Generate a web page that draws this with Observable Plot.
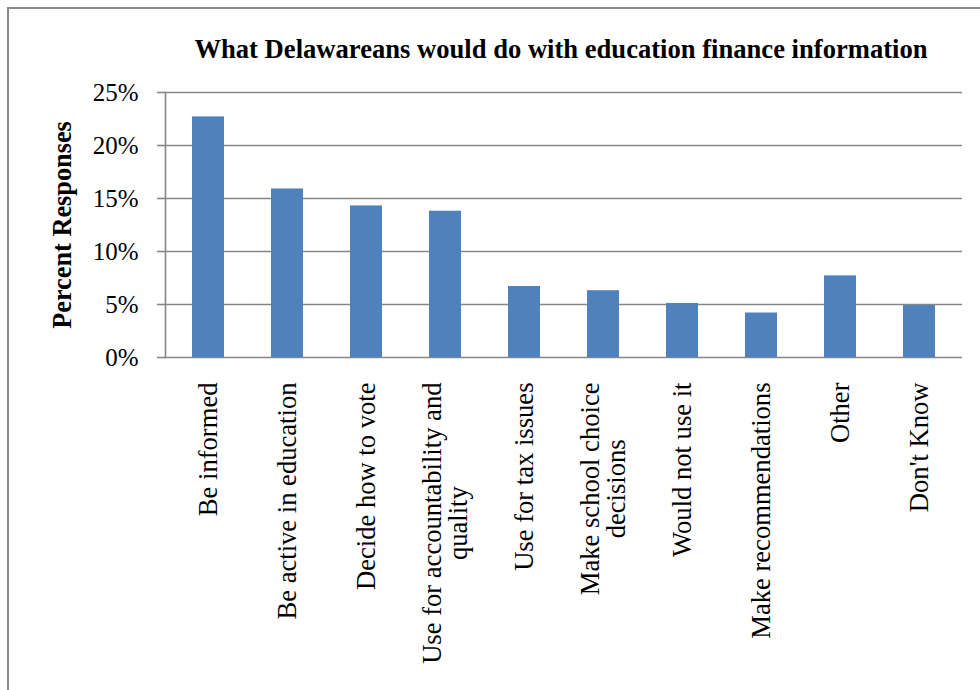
<!DOCTYPE html>
<html>
<head>
<meta charset="utf-8">
<script src="https://cdn.jsdelivr.net/npm/d3@7"></script>
<script src="https://cdn.jsdelivr.net/npm/@observablehq/plot@0.6"></script>
<style>
  html, body { margin: 0; padding: 0; background: #fff; }
  #wrap { position: relative; width: 980px; height: 690px; overflow: hidden; }
  #frame { position: absolute; left: 7px; top: 7px; width: 1000px; height: 1000px;
           border-top: 2px solid #8a8a8a; border-left: 2px solid #8a8a8a; box-sizing: border-box; }
  #title { position: absolute; left: 161px; width: 800px; top: 34px; text-align: center;
           font-family: "Liberation Serif", "Times New Roman", serif; font-weight: bold; font-size: 26.6px; color: #000; }
  #chart { position: absolute; left: 0; top: 0; }
</style>
</head>
<body>
<div id="wrap">
  <div id="frame"></div>
  <div id="chart"></div>
  <div id="title">What Delawareans would do with education finance information</div>
</div>
<script>
const categories = [
  "Be informed",
  "Be active in education",
  "Decide how to vote",
  "Use for accountability and\nquality",
  "Use for tax issues",
  "Make school choice\ndecisions",
  "Would not use it",
  "Make recommendations",
  "Other",
  "Don't Know"
];
const values = [22.7, 15.9, 14.3, 13.8, 6.7, 6.3, 5.1, 4.2, 7.7, 4.9];
const yTicks = [0, 5, 10, 15, 20, 25];
const yLabel = "Percent Responses";

const data = categories.map((c, i) => ({category: c, value: values[i]}));
const serif = '"Liberation Serif", "Times New Roman", serif';
const gray = "#868686";

const chart = Plot.plot({
  width: 980,
  height: 690,
  marginLeft: 165,
  marginRight: 18,
  marginTop: 92,
  marginBottom: 333,
  style: {fontFamily: serif, background: "transparent", color: "#000", overflow: "visible"},
  x: {domain: categories, paddingInner: 0.6, paddingOuter: 0.3, axis: null},
  y: {domain: [0, 25], ticks: yTicks, axis: null},
  marks: [
    Plot.gridY(yTicks, {stroke: gray, strokeOpacity: 1, strokeWidth: 1.6}),
    Plot.barY(data, {x: "category", y: "value", fill: "#4F81BD"}),
    Plot.frame({anchor: "left", stroke: gray, strokeWidth: 1.6}),
    Plot.axisY({ticks: yTicks, tickFormat: d => d + "%", tickSize: 8, tickPadding: 19,
                fontSize: 25, stroke: gray, strokeWidth: 1.6, fill: "#000", label: null}),
    Plot.text(categories, {x: d => d, text: d => d, frameAnchor: "bottom", dy: 25, rotate: -90,
                textAnchor: "middle", lineAnchor: "middle", lineHeight: 1.0, fontSize: 26.6,
                fill: "#000", className: "xlab"}),
    Plot.text([yLabel], {text: d => d, frameAnchor: "left", dx: -103, rotate: -90,
                textAnchor: "middle", lineAnchor: "middle",
                fontSize: 26.3, fontWeight: "bold", fill: "#000"})
  ]
});
document.getElementById("chart").appendChild(chart);

// center multi-line category labels so their top edge sits just below the axis
d3.select(chart).selectAll("g.xlab text").each(function() {
  const tspans = this.querySelectorAll("tspan");
  const lines = tspans.length ? Array.from(tspans) : [this];
  const L = d3.max(lines, el => el.getComputedTextLength());
  lines.forEach(el => el.setAttribute("x", -L / 2));
});
</script>
</body>
</html>
